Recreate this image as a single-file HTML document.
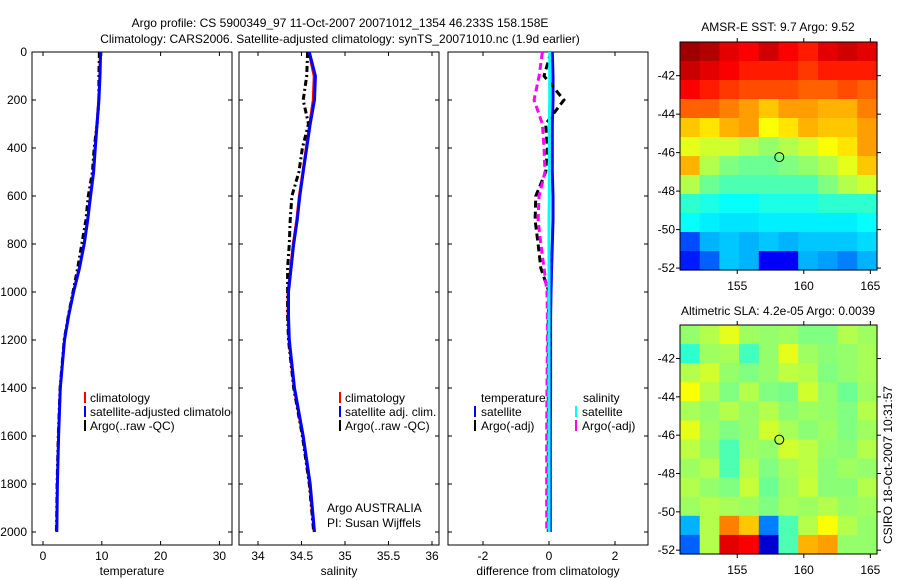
<!DOCTYPE html>
<html><head><meta charset="utf-8"><style>
html,body{margin:0;padding:0;background:#fff;}
svg{display:block;font-family:"Liberation Sans",sans-serif;}
text{font-size:12px;fill:#000;}
</style></head><body>
<svg id="fig" width="900" height="580" viewBox="0 0 900 580" xmlns="http://www.w3.org/2000/svg">
<text x="340" y="27" text-anchor="middle">Argo profile: CS 5900349_97 11-Oct-2007 20071012_1354 46.233S 158.158E</text>
<text x="340" y="43" text-anchor="middle">Climatology: CARS2006. Satellite-adjusted climatology: synTS_20071010.nc (1.9d earlier)</text>
<text x="778" y="31" text-anchor="middle">AMSR-E SST: 9.7 Argo: 9.52</text>
<text x="778" y="315" text-anchor="middle">Altimetric SLA: 4.2e-05 Argo: 0.0039</text>
<text transform="translate(892,465) rotate(-90)" text-anchor="middle">CSIRO 18-Oct-2007 10:31:57</text>
<g id="plots"></g>
</svg>
<script>
// ---- profile data ----
const pres = [0,100,200,300,400,500,600,700,800,900,1000,1100,1200,1400,1600,1800,2000];
const tempClim = [9.7,9.6,9.4,9.1,8.8,8.5,8.0,7.5,6.9,6.1,5.1,4.3,3.6,2.9,2.6,2.4,2.3];
const tempSat = [9.8,9.7,9.5,9.2,8.9,8.6,8.1,7.6,7.0,6.2,5.2,4.35,3.65,2.95,2.65,2.45,2.35];
const tempArgo = [9.6,9.5,9.5,9.2,8.7,8.4,7.7,7.3,6.6,5.9,5.1,4.3,3.6,2.9,2.6,2.4,2.3];
const salClim = [34.58,34.64,34.63,34.59,34.55,34.51,34.47,34.44,34.40,34.37,34.34,34.34,34.35,34.41,34.51,34.59,34.64];
const salSat = [34.59,34.66,34.65,34.60,34.56,34.52,34.48,34.45,34.41,34.38,34.35,34.35,34.36,34.42,34.52,34.60,34.65];
const salArgo = [34.57,34.56,34.52,34.58,34.51,34.47,34.39,34.37,34.36,34.34,34.34,34.34,34.35,34.41,34.51,34.59,34.64];
const dTempSat = [0.1,0.12,0.12,0.1,0.1,0.1,0.12,0.12,0.1,0.08,0.06,0.05,0.05,0.05,0.04,0.04,0.04];
const dSalSat = [0.02,0.02,0.02,0.01,0.01,0.01,0.01,0.0,0.0,0.0,0.0,0.0,0.0,0.0,0.0,0.0,0.0];
const dTempArgo = [0.06,-0.15,0.45,-0.1,-0.05,-0.1,-0.4,-0.42,-0.33,-0.25,0.0,-0.02,-0.02,-0.02,-0.02,-0.02,-0.02];
const dSalArgo = [-0.2,-0.3,-0.45,-0.2,-0.15,-0.12,-0.3,-0.33,-0.25,-0.15,-0.06,-0.05,-0.05,-0.06,-0.07,-0.07,-0.07];
const presTicks = [0,200,400,600,800,1000,1200,1400,1600,1800,2000];
const tempTicks = [0,10,20,30];
const salTicks = [34,34.5,35,35.5,36];
const diffTicks = [-2,0,2];
// ---- map data (jet colour index 0..1), rows north->south, cols west->east ----
const sstGrid = [
[0.97,0.95,0.9,0.88,0.92,0.88,0.85,0.9,0.92,0.9],
[0.93,0.9,0.88,0.85,0.85,0.85,0.82,0.85,0.85,0.85],
[0.88,0.85,0.82,0.8,0.8,0.8,0.78,0.78,0.8,0.78],
[0.78,0.78,0.75,0.72,0.68,0.72,0.72,0.7,0.7,0.75],
[0.68,0.65,0.7,0.72,0.62,0.65,0.7,0.68,0.68,0.72],
[0.6,0.58,0.58,0.55,0.52,0.55,0.58,0.62,0.65,0.72],
[0.7,0.55,0.5,0.48,0.48,0.5,0.52,0.55,0.6,0.68],
[0.55,0.48,0.45,0.45,0.45,0.45,0.45,0.5,0.55,0.58],
[0.42,0.4,0.38,0.38,0.4,0.4,0.4,0.42,0.42,0.42],
[0.38,0.36,0.35,0.35,0.36,0.36,0.36,0.36,0.36,0.38],
[0.2,0.3,0.32,0.3,0.32,0.3,0.32,0.32,0.32,0.34],
[0.15,0.22,0.32,0.3,0.12,0.12,0.3,0.28,0.25,0.3]];
const slaGrid = [
[0.52,0.55,0.6,0.53,0.52,0.53,0.5,0.5,0.55,0.53],
[0.42,0.53,0.54,0.44,0.52,0.6,0.53,0.51,0.52,0.54],
[0.55,0.58,0.52,0.5,0.52,0.56,0.55,0.5,0.52,0.54],
[0.62,0.55,0.5,0.55,0.5,0.49,0.58,0.52,0.48,0.53],
[0.54,0.52,0.55,0.52,0.55,0.51,0.53,0.52,0.5,0.55],
[0.6,0.53,0.5,0.52,0.58,0.54,0.51,0.53,0.5,0.53],
[0.56,0.52,0.45,0.53,0.52,0.58,0.56,0.52,0.51,0.55],
[0.53,0.55,0.45,0.55,0.5,0.54,0.56,0.51,0.53,0.52],
[0.55,0.52,0.5,0.57,0.48,0.53,0.57,0.51,0.51,0.55],
[0.53,0.55,0.54,0.53,0.5,0.54,0.53,0.55,0.52,0.53],
[0.3,0.55,0.75,0.68,0.25,0.45,0.55,0.62,0.55,0.52],
[0.22,0.55,0.9,0.88,0.08,0.45,0.7,0.72,0.52,0.52]];
const lonTicks = [155,160,165];
const latTicks = [-42,-44,-46,-48,-50,-52];
const argoLon = 158.158, argoLat = -46.233;

const NS = "http://www.w3.org/2000/svg";
const root = document.getElementById('plots');
function mk(tag, attrs, parent){const e=document.createElementNS(NS,tag);for(const k in attrs)e.setAttribute(k,attrs[k]);(parent||root).appendChild(e);return e;}
function jet(v){v=Math.max(0,Math.min(1,v));const r=Math.max(0,Math.min(1,1.5-Math.abs(4*v-3))),g=Math.max(0,Math.min(1,1.5-Math.abs(4*v-2))),b=Math.max(0,Math.min(1,1.5-Math.abs(4*v-1)));return `rgb(${Math.round(r*255)},${Math.round(g*255)},${Math.round(b*255)})`;}

const yTop=52, yBot=545;
const yP = p => 52 + p*0.24;

function panel(name, x0, x1, xOf, ticks, label, series, clipId){
  const g = mk('g',{});
  
  
  const cp = mk('clipPath',{id:clipId},g); mk('rect',{x:x0,y:yTop,width:x1-x0,height:yBot-yTop},cp);
  const frame = mk('rect',{x:x0,y:yTop,width:x1-x0,height:yBot-yTop,fill:'none',stroke:'#000','stroke-width':1},g);
  
  
  ticks.forEach(t=>{const x=xOf(t);
    mk('line',{x1:x,y1:yTop,x2:x,y2:yTop+4,stroke:'#000'},g);
    mk('line',{x1:x,y1:yBot,x2:x,y2:yBot-4,stroke:'#000'},g);
    const tl=mk('text',{x:x,y:560,'text-anchor':'middle'},g); tl.textContent=t;
    
    
  });
  presTicks.forEach(p=>{const y=yP(p);
    mk('line',{x1:x0,y1:y,x2:x0+4,y2:y,stroke:'#000'},g);
    mk('line',{x1:x1,y1:y,x2:x1-4,y2:y,stroke:'#000'},g);
  });
  const xl=mk('text',{x:(x0+x1)/2,y:575,'text-anchor':'middle'},g); xl.textContent=label;
  
  
  const sg = mk('g',{'clip-path':`url(#${clipId})`},g);
  series.forEach(s=>{
    const pts = s.vals.map((v,i)=>`${xOf(v).toFixed(1)},${yP(pres[i]).toFixed(1)}`).join(' ');
    const pl = mk('polyline',{points:pts,fill:'none',stroke:s.color,'stroke-width':s.w,'stroke-dasharray':s.dash||'none'},sg);
    
    
  });
  return {g, sg};
}

const xT = v => 43 + v*5.88;
const xS = v => 258 + (v-34)*87;
const xD = v => 549 + v*33;

presTicks.forEach(p=>{const t=mk('text',{x:27,y:yP(p)+4,'text-anchor':'end'}); t.textContent=p;
  
  });

const p1 = panel('temperature-panel',32,232,xT,tempTicks,'temperature',[
 {vals:tempClim,color:'#f00',w:2,name:'temp-climatology-line'},
 {vals:tempArgo,color:'#000',w:3,dash:'6,3,2,3',name:'temp-argo-line'},
 {vals:tempSat,color:'#00f',w:3,name:'temp-satellite-line'}],'c1');
const p2 = panel('salinity-panel',239,439,xS,salTicks,'salinity',[
 {vals:salClim,color:'#f00',w:2,name:'sal-climatology-line'},
 {vals:salArgo,color:'#000',w:3,dash:'6,3,2,3',name:'sal-argo-line'},
 {vals:salSat,color:'#00f',w:3,name:'sal-satellite-line'}],'c2');
const p3 = panel('difference-panel',448,648,xD,diffTicks,'difference from climatology',[
 {vals:dTempSat,color:'#00f',w:3,name:'diff-temp-satellite-line'},
 {vals:dTempArgo,color:'#000',w:3,dash:'7,4',name:'diff-temp-argo-line'},
 {vals:dSalArgo,color:'#f0f',w:3,dash:'7,4',name:'diff-sal-argo-line'},
 {vals:dSalSat,color:'#0ff',w:3,name:'diff-sal-satellite-line'}],'c3');

function legendEntry(parent, bx, tx, y, color, label){
  const g = mk('g',{},parent);
  
  
  if(color) mk('line',{x1:bx,y1:y-6,x2:bx,y2:y+5,stroke:color,'stroke-width':2},g);
  const t=mk('text',{x:tx,y:y+4},g); t.textContent=label;
}
legendEntry(p1.sg,85,90,398,'#f00','climatology');
legendEntry(p1.sg,85,90,412,'#00f','satellite-adjusted climatology');
legendEntry(p1.sg,85,90,426,'#000','Argo(..raw -QC)');
legendEntry(p2.sg,340,345,398,'#f00','climatology');
legendEntry(p2.sg,340,345,412,'#00f','satellite adj. clim.');
legendEntry(p2.sg,340,345,426,'#000','Argo(..raw -QC)');
legendEntry(p2.sg,0,327,508,null,'Argo AUSTRALIA');
legendEntry(p2.sg,0,327,523,null,'PI: Susan Wijffels');
legendEntry(p3.sg,0,481,398,null,'temperature');
legendEntry(p3.sg,475,481,412,'#00f','satellite');
legendEntry(p3.sg,475,481,426,'#000','Argo(-adj)');
legendEntry(p3.sg,0,583,398,null,'salinity');
legendEntry(p3.sg,576,582,412,'#0ff','satellite');
legendEntry(p3.sg,576,582,426,'#f0f','Argo(-adj)');

// ---- maps ----
function mapPanel(name, grid, x0, x1, y0, y1, latTop, latBot, lonL, lonR){
  const g = mk('g',{});
  
  
  const xL = lon => x0 + (lon-lonL)/(lonR-lonL)*(x1-x0);
  const yL = lat => y0 + (latTop-lat)/(latTop-latBot)*(y1-y0);
  const rows = grid.length, cols = grid[0].length;
  const dLat=(latTop-latBot)/rows, dLon=(lonR-lonL)/cols;
  grid.forEach((row,r)=>row.forEach((v,c)=>{
    const xa=xL(lonL+c*dLon), xb=xL(lonL+(c+1)*dLon), ya=yL(latTop-r*dLat), yb=yL(latTop-(r+1)*dLat);
    const cell = mk('rect',{x:xa.toFixed(1),y:ya.toFixed(1),width:(xb-xa+0.6).toFixed(1),height:(yb-ya+0.6).toFixed(1),fill:jet(v)},g);
    
    
  }));
  mk('rect',{x:x0,y:y0,width:x1-x0,height:y1-y0,fill:'none',stroke:'#000'},g);
  lonTicks.forEach(l=>{const x=xL(l);
    mk('line',{x1:x,y1:y0,x2:x,y2:y0-4,stroke:'#000'},g);
    mk('line',{x1:x,y1:y1,x2:x,y2:y1+4,stroke:'#000'},g);
    const t=mk('text',{x:x,y:y1+20,'text-anchor':'middle'},g); t.textContent=l;
    
    
  });
  latTicks.forEach(l=>{const y=yL(l);
    mk('line',{x1:x0,y1:y,x2:x0-4,y2:y,stroke:'#000'},g);
    mk('line',{x1:x1,y1:y,x2:x1+4,y2:y,stroke:'#000'},g);
    const t=mk('text',{x:x0-5,y:y+4,'text-anchor':'end'},g); t.textContent=l;
    
    
  });
  const m = mk('circle',{cx:xL(argoLon),cy:yL(argoLat),r:4.5,fill:'none',stroke:'#000','stroke-width':1},g);
  
  
}
mapPanel('sst-map',sstGrid,680,877,42,270,-40.25,-52.1,150.7,165.5);
mapPanel('sla-map',slaGrid,680,877,325,554,-40.25,-52.2,150.7,165.5);
</script>
</body></html>
